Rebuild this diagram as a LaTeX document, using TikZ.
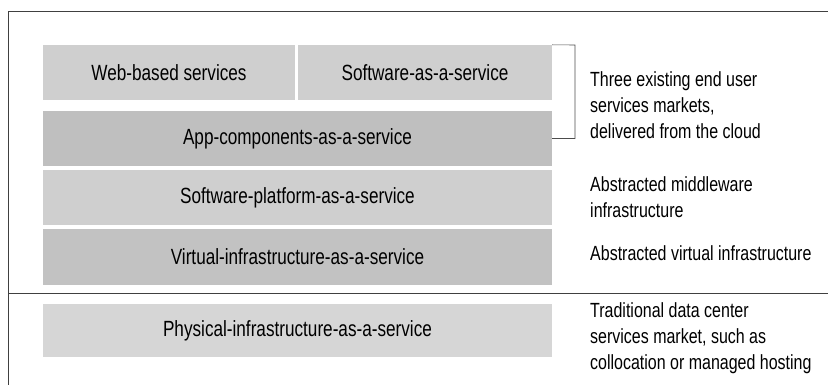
\documentclass[tikz,border=0pt]{standalone}
\usepackage{fontspec}
\setmainfont{Liberation Sans}[FakeStretch=0.78]
\usepackage{tikz}
\usetikzlibrary{positioning}

\tikzset{
  layer/.style={fill=black!19, draw=none, inner sep=0pt, minimum height=55pt,
    font=\fontsize{22}{25}\selectfont},
  note/.style={anchor=west, align=left, inner sep=0pt,
    font=\fontsize{20.5}{26}\selectfont},
  frame/.style={draw=black!75, line width=0.7pt}
}

\begin{document}
\begin{tikzpicture}[x=1pt,y=-1pt]
        \useasboundingbox (0,0) rectangle (828,385);

        % Outer frame
        \draw[frame] (828,11) -- (8,11) -- (8,385);
        \draw[frame] (8,293) -- (828,293);

        % Service layers
        \node[layer, minimum width=252pt] (web) at (169,72.5) {Web-based services};
        \node[layer, minimum width=254pt] (saas) at (425,72.5) {Software-as-a-service};
        \node[layer, fill=black!25, minimum width=509pt] (app) at (297.5,138.5) {App-components-as-a-service};
        \node[layer, minimum width=509pt] (platform) at (297.5,197.5) {Software-platform-as-a-service};
        \node[layer, fill=black!24, minimum width=509pt, minimum height=56pt] (virtual) at (297.5,257) {Virtual-infrastructure-as-a-service};
        \node[layer, fill=black!16, minimum width=509pt, minimum height=53pt] (physical) at (297.5,330.5) {Physical-infrastructure-as-a-service};

        % Bracket
        \coordinate (brtop) at (575,45);
        \draw[black!70, line width=0.6pt] (saas.north east) -- (brtop) |- (app.east);

        % Market descriptions
        \node[note] (endusers) at (590,105) {Three existing end user\\services markets,\\delivered from the cloud};
        \node[note] (middleware) at (590,197) {Abstracted middleware\\infrastructure};
        \node[note] (virtualinfra) at (590,253) {Abstracted virtual infrastructure};
        \node[note] (datacenter) at (590,338) {Traditional data center\\services market, such as\\collocation or managed hosting};
\end{tikzpicture}
\end{document}
